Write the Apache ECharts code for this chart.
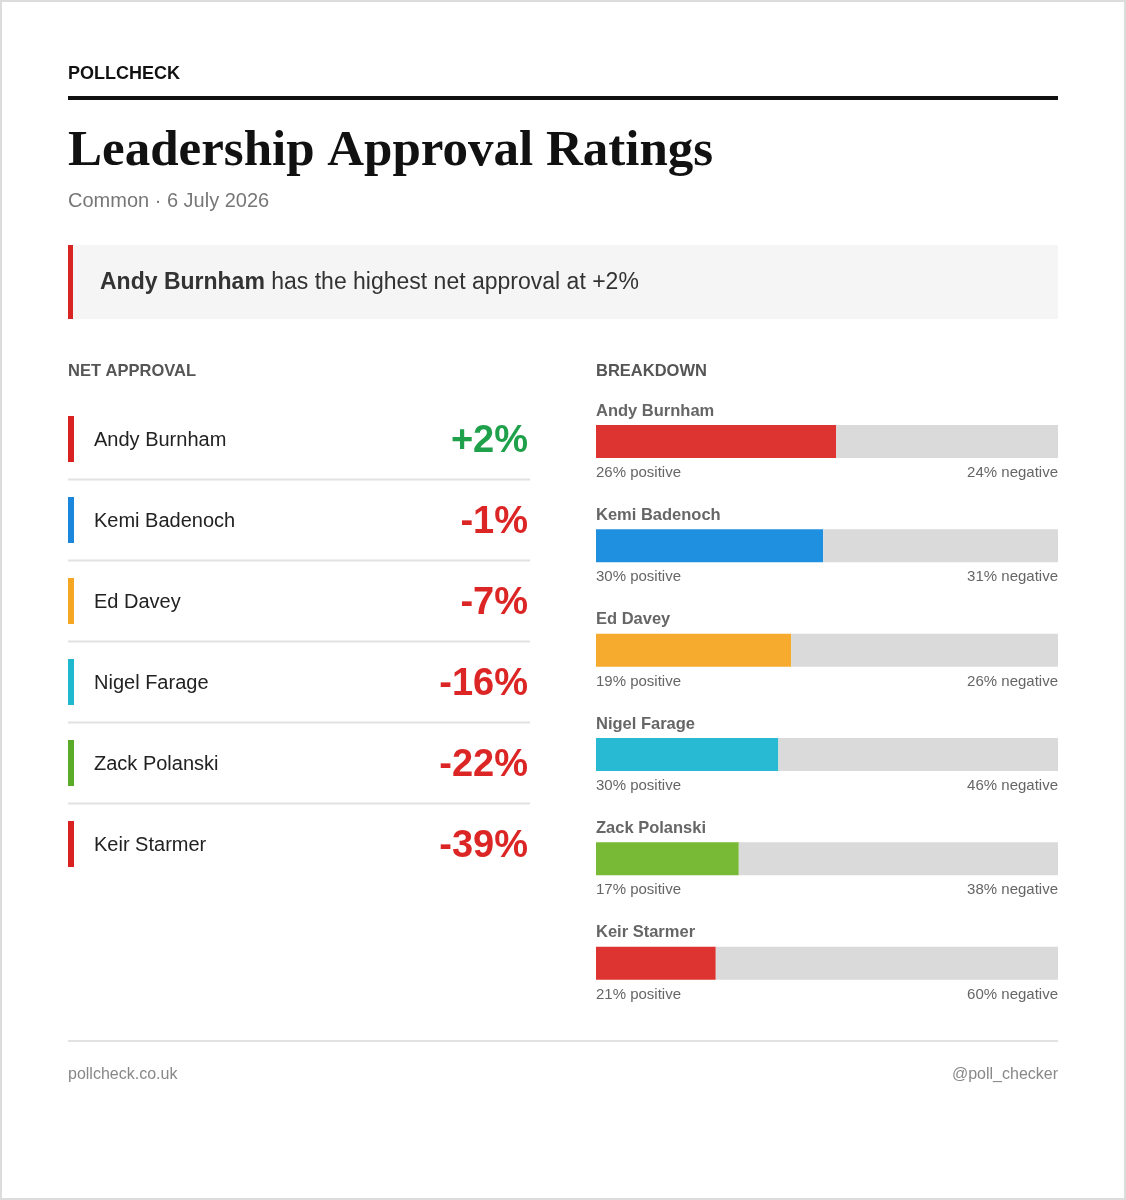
<!DOCTYPE html>
<html>
<head>
<meta charset="utf-8">
<script src="https://cdn.jsdelivr.net/npm/echarts@6/dist/echarts.min.js"></script>
<style>
html,body{margin:0;padding:0;background:#fff;}
#c{width:1126px;height:1200px;}
</style>
</head>
<body>
<div id="c"></div>
<script>
const names = ['Andy Burnham','Kemi Badenoch','Ed Davey','Nigel Farage','Zack Polanski','Keir Starmer'];
const positive = [26,30,19,30,17,21];
const negative = [24,31,26,46,38,60];
const net = [2,-1,-7,-16,-22,-39];
const stripeColors = ['#d92121','#1a86dc','#f5a623','#1fb8cf','#5aab28','#d92121'];
const barColors = ['#dd3431','#1f90e0','#f6ab2f','#29bad3','#78b935','#dd3431'];
const title = 'Leadership Approval Ratings';
const subtitle = 'Common \u00b7 6 July 2026';
const brand = 'POLLCHECK';
const footerLeft = 'pollcheck.co.uk';
const footerRight = '@poll_checker';

const SANS = '"Liberation Sans", Arial, Helvetica, sans-serif';
const SERIF = '"Liberation Serif", "DejaVu Serif", serif';

const bestIdx = net.indexOf(Math.max(...net));
const fmtNet = v => (v > 0 ? '+' : '') + v + '%';

const posShare = positive.map((p,i)=> p/(p+negative[i]));
const negShare = positive.map((p,i)=> negative[i]/(p+negative[i]));

const chart = echarts.init(document.getElementById('c'), null, {renderer:'canvas'});

const option = {
  animation:false,
  backgroundColor:'#fff',
  grid:[
    {left:68, width:462, top:398.5, height:486},
    {left:596, width:462, top:389.3, height:626}
  ],
  xAxis:[
    {gridIndex:0, type:'value', min:0, max:1, show:false},
    {gridIndex:1, type:'value', min:0, max:1, show:false}
  ],
  yAxis:[
    {gridIndex:0, type:'category', data:names, inverse:true, show:false},
    {gridIndex:1, type:'category', data:names, inverse:true, show:false}
  ],
  series:[
    {
      type:'custom', xAxisIndex:0, yAxisIndex:0,
      data: net.map((v,i)=>[0,i,v]),
      renderItem:function(params, api){
        const idx = api.value(1);
        const v = api.value(2);
        const cs = params.coordSys;
        const y = api.coord([0, idx])[1];
        const band = api.size([0,1])[1];
        const children = [
          {type:'rect', shape:{x:cs.x, y:y-23, width:6, height:46}, style:{fill:stripeColors[idx]}},
          {type:'text', x:cs.x+26, y:y+1, style:{text:names[idx], font:'20px '+SANS, fill:'#222', align:'left', verticalAlign:'middle'}},
          {type:'text', x:cs.x+cs.width-2, y:y+3, style:{text:fmtNet(v), font:'bold 38px '+SANS, fill: v>0 ? '#1fa04a' : '#dc2626', align:'right', verticalAlign:'middle'}}
        ];
        if (idx < names.length-1) {
          children.push({type:'line', shape:{x1:cs.x, y1:y+band/2, x2:cs.x+cs.width, y2:y+band/2}, style:{stroke:'#e2e2e2', lineWidth:2}});
        }
        return {type:'group', children:children};
      }
    },
    {
      name:'positive', type:'bar', xAxisIndex:1, yAxisIndex:1, stack:'b', barWidth:33,
      data: posShare.map((v,i)=>({value:v, itemStyle:{color:barColors[i]}})),
      label:{show:true, position:[0,-14], align:'left', verticalAlign:'middle',
        formatter:p=>names[p.dataIndex], color:'#666', fontWeight:'bold', fontSize:16.5, fontFamily:SANS}
    },
    {
      name:'negative', type:'bar', xAxisIndex:1, yAxisIndex:1, stack:'b', barWidth:33,
      data: negShare, itemStyle:{color:'#dadada'},
      label:{show:true, position:['100%', 48], align:'right', verticalAlign:'middle',
        formatter:p=>negative[p.dataIndex]+'% negative', fontSize:15, fontFamily:SANS, color:'#666'}
    },
    {
      name:'posLabel', type:'bar', xAxisIndex:1, yAxisIndex:1, barWidth:33, barGap:'-100%', silent:true,
      data: positive.map(()=>1), itemStyle:{color:'rgba(0,0,0,0)'}, z:1,
      label:{show:true, position:[0, 48], align:'left', verticalAlign:'middle',
        formatter:p=>positive[p.dataIndex]+'% positive', fontSize:15, fontFamily:SANS, color:'#666'}
    }
  ],
  graphic:[
    {type:'rect', shape:{x:1, y:1, width:1124, height:1198}, style:{fill:'none', stroke:'#dcdcdc', lineWidth:2}, silent:true},
    {type:'text', x:68, y:74, style:{text:brand, font:'bold 18px '+SANS, fill:'#111', verticalAlign:'middle'}},
    {type:'rect', shape:{x:68, y:96, width:990, height:4}, style:{fill:'#111'}},
    {type:'text', x:68, y:152, style:{text:title, font:'bold 51px '+SERIF, fill:'#111', verticalAlign:'middle'}},
    {type:'text', x:68, y:201, style:{text:subtitle, font:'20px '+SANS, fill:'#777', verticalAlign:'middle'}},
    {type:'rect', shape:{x:68, y:245, width:990, height:74}, style:{fill:'#f5f5f5'}},
    {type:'rect', shape:{x:68, y:245, width:5, height:74}, style:{fill:'#d92424'}},
    {type:'text', x:100, y:283, style:{
      text:'{b|'+names[bestIdx]+'} has the highest net approval at '+fmtNet(net[bestIdx]),
      font:'23px '+SANS, fill:'#333', verticalAlign:'middle',
      rich:{b:{font:'bold 23px '+SANS, fill:'#333'}}
    }},
    {type:'text', x:68, y:371, style:{text:'NET APPROVAL', font:'bold 16.5px '+SANS, fill:'#555', verticalAlign:'middle'}},
    {type:'text', x:596, y:371, style:{text:'BREAKDOWN', font:'bold 16.5px '+SANS, fill:'#555', verticalAlign:'middle'}},
    {type:'rect', shape:{x:68, y:1040, width:990, height:2}, style:{fill:'#e2e2e2'}},
    {type:'text', x:68, y:1075, style:{text:footerLeft, font:'16px '+SANS, fill:'#888', verticalAlign:'middle'}},
    {type:'text', x:1058, y:1075, style:{text:footerRight, font:'16px '+SANS, fill:'#888', align:'right', verticalAlign:'middle'}}
  ]
};
chart.setOption(option);
</script>
</body>
</html>
